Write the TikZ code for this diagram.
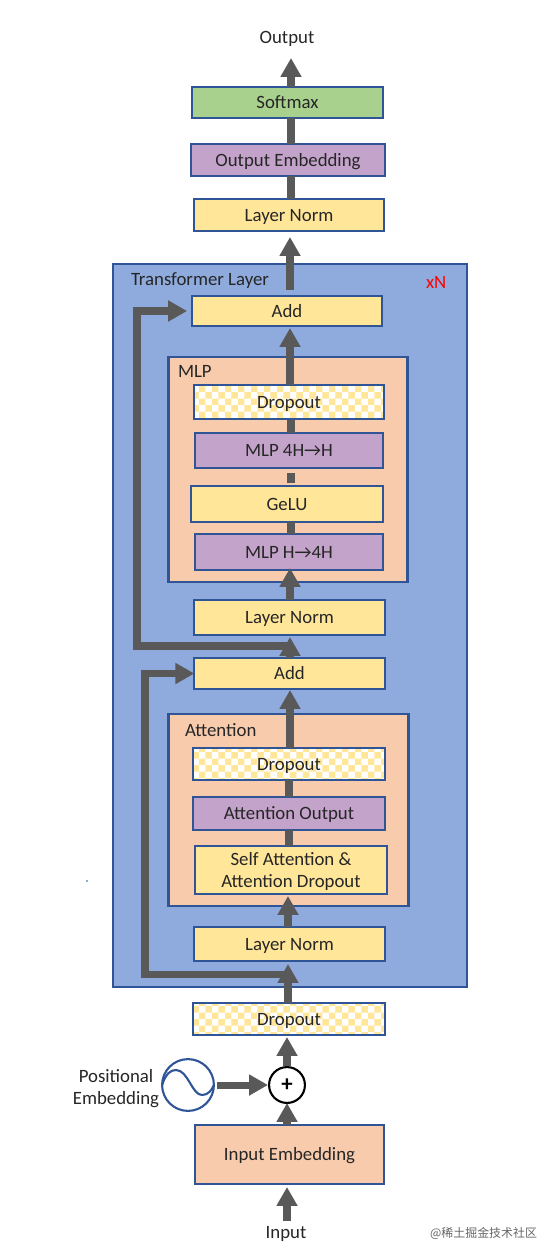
\documentclass[tikz,border=0pt]{standalone}
\usepackage{fontspec}
\setmainfont{Carlito}
\newfontfamily\cjkfont{Noto Sans CJK SC}
\usetikzlibrary{arrows,arrows.meta,positioning,calc,patterns}

\definecolor{edgeBlue}{HTML}{2F5597}
\definecolor{flowGray}{HTML}{595959}
\definecolor{normYellow}{HTML}{FFE699}
\definecolor{mlpPurple}{HTML}{C3A3CA}
\definecolor{softGreen}{HTML}{A9D18E}
\definecolor{blockOrange}{HTML}{F8CBAD}
\definecolor{layerBlue}{HTML}{8FAADC}
\definecolor{inkGray}{HTML}{262626}

\pgfdeclarepatternformonly{dropCheck}{\pgfqpoint{0pt}{0pt}}{\pgfqpoint{7.6pt}{7.6pt}}{\pgfqpoint{7.6pt}{7.6pt}}{
  \pgfpathrectangle{\pgfqpoint{0pt}{0pt}}{\pgfqpoint{3.8pt}{3.8pt}}
  \pgfpathrectangle{\pgfqpoint{3.8pt}{3.8pt}}{\pgfqpoint{3.8pt}{3.8pt}}
  \pgfusepath{fill}
}

\tikzset{
  box/.style={draw=edgeBlue,line width=1.2pt,inner sep=0pt,outer sep=0pt,text=inkGray,font=\fontsize{10.7pt}{12.7pt}\selectfont,text height=7pt,text depth=0pt},
  normBox/.style={box,fill=normYellow},
  mlpBox/.style={box,fill=mlpPurple},
  dropBox/.style={box,preaction={fill=white},preaction={pattern=dropCheck,pattern color=normYellow}},
  orangeBox/.style={box,fill=blockOrange},
  tag/.style={inner sep=0pt,outer sep=0pt,text=inkGray,font=\fontsize{10.7pt}{12.7pt}\selectfont,text height=7pt,text depth=0pt},
  flow/.style={draw=flowGray,line width=4pt,-{Triangle[length=10.8pt,width=11.4pt]}},
  link/.style={draw=flowGray,line width=4pt}
}

\begin{document}
\begin{tikzpicture}[x=0.02cm,y=-0.02cm]
        \useasboundingbox (0,0) rectangle (554,1258);

        % Outer blocks
        \node[orangeBox,fill=layerBlue,minimum width=356*0.567pt,minimum height=725*0.567pt] (layerBlock) at (290,625.5) {};
        \node[orangeBox,minimum width=240*0.567pt,minimum height=225*0.567pt] (mlpBlock) at (288,469.5) {};
        \node[orangeBox,minimum width=241*0.567pt,minimum height=192*0.567pt] (attBlock) at (288.5,810) {};

        % Top boxes
        \node[box,fill=softGreen,minimum width=191*0.567pt,minimum height=31*0.567pt] (softmax) at (287.5,102.5) {Softmax};
        \node[mlpBox,minimum width=194*0.567pt,minimum height=32*0.567pt] (outEmbed) at (288,160) {Output Embedding};
        \node[normBox,minimum width=190*0.567pt,minimum height=32*0.567pt] (normTop) at (289,215) {Layer Norm};
        \node[normBox,minimum width=190*0.567pt,minimum height=30*0.567pt] (addTop) at (287,311) {Add};

        % MLP boxes
        \node[dropBox,minimum width=190*0.567pt,minimum height=34*0.567pt] (dropMlp) at (289,402) {Dropout};
        \node[mlpBox,minimum width=188*0.567pt,minimum height=35*0.567pt] (mlpDown) at (289,450.5) {MLP 4H→H};
        \node[normBox,minimum width=192*0.567pt,minimum height=36*0.567pt] (gelu) at (287,504) {GeLU};
        \node[mlpBox,minimum width=188*0.567pt,minimum height=36*0.567pt] (mlpUp) at (289,552) {MLP H→4H};

        % Middle boxes
        \node[normBox,minimum width=191*0.567pt,minimum height=35*0.567pt] (normMlp) at (289.5,617.5) {Layer Norm};
        \node[normBox,minimum width=191*0.567pt,minimum height=31*0.567pt] (addMid) at (289.5,673.5) {Add};

        % Attention boxes
        \node[dropBox,minimum width=192*0.567pt,minimum height=32*0.567pt] (dropAtt) at (289,764) {Dropout};
        \node[mlpBox,minimum width=192*0.567pt,minimum height=33*0.567pt] (attOut) at (289,813.5) {Attention Output};
        \node[normBox,align=center,text height=,text depth=0pt,minimum width=192*0.567pt,minimum height=48*0.567pt] (selfAtt) at (291,870) {Self Attention \&\\Attention Dropout};
        \node[normBox,minimum width=191*0.567pt,minimum height=34*0.567pt] (normAtt) at (289.5,944) {Layer Norm};

        % Bottom boxes
        \node[dropBox,minimum width=192*0.567pt,minimum height=32*0.567pt] (dropIn) at (289,1019) {Dropout};
        \node[orangeBox,minimum width=189*0.567pt,minimum height=59*0.567pt] (inEmbed) at (289.5,1154.5) {Input Embedding};
        \node[circle,draw=black,fill=white,line width=1.2pt,minimum size=36*0.567pt,inner sep=0pt,font=\bfseries\fontsize{13pt}{13pt}\selectfont] (plusNode) at (287,1085) {+};
        \node[circle,draw=edgeBlue,line width=1.2pt,minimum size=52*0.567pt,inner sep=0pt,outer sep=0pt] (sineNode) at (188,1085) {};

        % Labels
        \node[tag] (outLabel) at (287,37) {Output};
        \node[tag] (inLabel) at (286,1232) {Input};
        \node[tag,anchor=west] (layerLabel) at (131,279) {Transformer Layer};
        \node[tag,anchor=west] (mlpLabel) at (178,371) {MLP};
        \node[tag,anchor=west] (attLabel) at (185,730) {Attention};
        \node[tag,text=red,anchor=west] (repLabel) at (426,282) {xN};
        \node[tag,align=center,text height=,text depth=0pt] (posLabel) at (116,1087) {Positional\\Embedding};
        \node[tag,text=black!60,anchor=east,text height=,text depth=,font=\cjkfont\fontsize{6.8pt}{8pt}\selectfont] (markLabel) at (537,1233.5) {@稀土掘金技术社区};
        \node[fill=layerBlue,inner sep=0pt,minimum size=1.5pt] (speck) at (87,881) {};

        % Sine curve
        \draw[edgeBlue,line width=1.2pt] (sineNode.west) .. controls (166,1073) and (171,1070) .. (176,1070) .. controls (188,1070) and (192,1095) .. (202,1095) .. controls (208,1095) and (212,1090) .. (sineNode.east);

        % Helper points for the arrows
        \coordinate (inStart) at (287,1221);
        \coordinate (outEnd) at (291,58);
        \coordinate (topEnd) at (290,237);
        \coordinate (skipA) at (145,974);
        \coordinate (skipB) at (137,646);

        % Arrows from the bottom up
        \draw[flow] (inStart) -- (inStart |- 0,1187);
        \draw[flow] (plusNode |- inEmbed.north) -- (plusNode |- 0,1103);
        \draw[flow] (plusNode.north) -- (plusNode |- 0,1037);
        \draw[flow] (sineNode.east) ++(3,0) -- (plusNode.west);
        \draw[flow] (288,1003) -- (288,964);
        \draw[flow] (288,927) -- (288,896);
        \draw[flow] (290,748) -- (290,690);
        \draw[flow] (290,658) -- (290,637);
        \draw[flow] (290,600) -- (290,568);
        \draw[flow] (290,385) -- (290,328);
        \draw[flow] (290,290) -- (topEnd);
        \draw[flow] (291,87) -- (outEnd);

        % Short links
        \draw[link] (289,846) -- (289,830);
        \draw[link] (289,797) -- (289,780);
        \draw[link] (291,534) -- (291,522);
        \draw[link] (291,483) -- (291,473);
        \draw[link] (291,433) -- (291,420);
        \draw[link] (291,199) -- (291,176);
        \draw[link] (291,144) -- (291,118);

        % Skip arrows
        \draw[flow] (288,974) -- (skipA) -- (skipA |- addMid.west) -- (addMid.west);
        \draw[flow] (288,646) -- (skipB) -- (skipB |- addTop.west) -- ([xshift=-3pt]addTop.west);
    \end{tikzpicture}
\end{document}
